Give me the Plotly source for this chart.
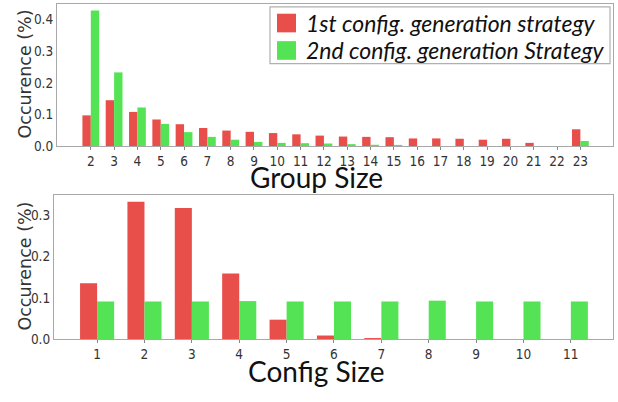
import plotly.graph_objects as go

# ---- data ----
group_sizes = [2, 3, 4, 5, 6, 7, 8, 9, 10, 11, 12, 13, 14, 15, 16, 17, 18, 19, 20, 21, 22, 23]
group_first = [0.097, 0.145, 0.108, 0.084, 0.069, 0.057, 0.049, 0.045, 0.041, 0.037, 0.033,
               0.030, 0.029, 0.028, 0.024, 0.024, 0.023, 0.020, 0.023, 0.010, 0.0, 0.053]
group_second = [0.429, 0.233, 0.122, 0.070, 0.044, 0.029, 0.020, 0.013, 0.010, 0.009, 0.008,
                0.006, 0.004, 0.003, 0.0, 0.0, 0.0, 0.0, 0.0, 0.0, 0.0, 0.016]

config_sizes = [1, 2, 3, 4, 5, 6, 7, 8, 9, 10, 11]
config_first = [0.135, 0.332, 0.317, 0.159, 0.047, 0.0087, 0.002, 0.0, 0.0, 0.0, 0.0]
config_second = [0.091, 0.091, 0.091, 0.092, 0.091, 0.091, 0.091, 0.093, 0.091, 0.091, 0.091]

series_names = ["1st config. generation strategy", "2nd config. generation Strategy"]
y_title = "Occurence (%)"
x_titles = ["Group Size", "Config Size"]

RED = "#E84E4A"
GREEN = "#54E354"
W, H = 618, 402

fig = go.Figure()
fig.add_trace(go.Bar(x=group_sizes, y=group_first, marker_color=RED, name=series_names[0],
                     offsetgroup="a", xaxis="x", yaxis="y", marker_line_width=0))
fig.add_trace(go.Bar(x=group_sizes, y=group_second, marker_color=GREEN, name=series_names[1],
                     offsetgroup="b", xaxis="x", yaxis="y", marker_line_width=0))
fig.add_trace(go.Bar(x=config_sizes, y=config_first, marker_color=RED, name=series_names[0],
                     offsetgroup="a", xaxis="x2", yaxis="y2", marker_line_width=0, showlegend=False))
fig.add_trace(go.Bar(x=config_sizes, y=config_second, marker_color=GREEN, name=series_names[1],
                     offsetgroup="b", xaxis="x2", yaxis="y2", marker_line_width=0, showlegend=False))

tickfont = dict(family="DejaVu Sans Condensed, DejaVu Sans", size=13.5, color="#333333")
axis_common = dict(showline=True, mirror=True, linecolor="#A8A8A8", linewidth=1.2,
                   showgrid=False, zeroline=False, tickfont=tickfont)

def px_x(p):
    return p / W

def px_y(p):
    return 1 - p / H

fig.update_layout(
    width=W, height=H,
    margin=dict(l=0, r=0, t=0, b=0),
    paper_bgcolor="white", plot_bgcolor="white",
    barmode="group", bargap=0.28, bargroupgap=0,
    showlegend=False,
    xaxis=dict(domain=[px_x(57), px_x(613)], anchor="y", range=[0.55, 24.4],
               tickmode="array", tickvals=group_sizes, ticktext=[str(v) for v in group_sizes],
               ticks="outside", ticklen=3, tickcolor="#888888", **axis_common),
    yaxis=dict(domain=[px_y(149), px_y(4)], anchor="x", range=[0, 0.4496],
               tickvals=[0, 0.1, 0.2, 0.3, 0.4], tickformat=".1f", ticks="", **axis_common),
    xaxis2=dict(domain=[px_x(54), px_x(613)], anchor="y2", range=[0.09, 11.89],
                tickmode="array", tickvals=config_sizes, ticktext=[str(v) for v in config_sizes],
                ticks="outside", ticklen=3, tickcolor="#888888", **axis_common),
    yaxis2=dict(domain=[px_y(346), px_y(199)], anchor="x2", range=[0, 0.3485],
                tickvals=[0, 0.1, 0.2, 0.3], tickformat=".1f", ticks="", **axis_common),
)

def ann(text, x, y, size, family, color, angle=0, xanchor="center"):
    return dict(text=text, x=px_x(x), y=px_y(y), textangle=angle, showarrow=False,
                xref="paper", yref="paper", xanchor=xanchor, yanchor="middle",
                font=dict(family=family, size=size, color=color))

annotations = [
    ann(y_title, 25, 76, 17.5, "DejaVu Sans", "#333333", angle=-90),
    ann(y_title, 25, 272, 17.5, "DejaVu Sans", "#333333", angle=-90),
    ann(x_titles[0], 316, 181, 28, "Lato", "#111111"),
    ann(x_titles[1], 316, 379, 28, "Lato", "#111111"),
]
# manual legend
legend_rows = [(23.5, RED, series_names[0]), (51.5, GREEN, series_names[1])]
shapes = [dict(type="rect", xref="paper", yref="paper",
               x0=px_x(270), x1=px_x(610), y0=px_y(65), y1=px_y(7),
               line=dict(color="#B0B0B0", width=1.2), fillcolor="white", layer="above")]
for cy, col, name in legend_rows:
    shapes.append(dict(type="rect", xref="paper", yref="paper",
                       x0=px_x(277), x1=px_x(296), y0=px_y(cy + 9.5), y1=px_y(cy - 9.5),
                       line=dict(width=0), fillcolor=col, layer="above"))
    annotations.append(ann("<i>" + name + "</i>", 304, cy, 23, "Lato", "#111111", xanchor="left"))

fig.update_layout(annotations=annotations, shapes=shapes)
fig.write_html(
    "out.html",
    config={"displayModeBar": False},
    post_script=("document.documentElement.style.margin='0';"
                 "document.body.style.margin='0';"
                 "document.documentElement.style.overflow='hidden';"
                 "document.body.style.overflow='hidden';"),
)
